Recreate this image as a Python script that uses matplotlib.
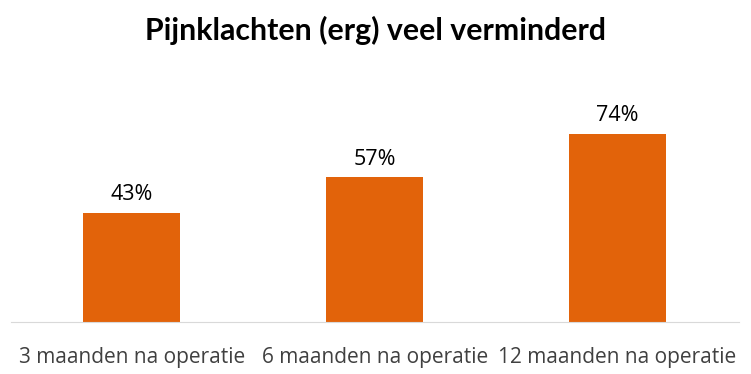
import matplotlib.pyplot as plt

categories = ['3 maanden na operatie', '6 maanden na operatie', '12 maanden na operatie']
values = [43, 57, 74]
labels = ['43%', '57%', '74%']

plt.rcParams['font.family'] = ['Open Sans', 'DejaVu Sans']

fig = plt.figure(figsize=(7.51, 3.74), dpi=100)
ax = fig.add_axes([10.5 / 751, 52 / 374, 728.5 / 751, 270 / 374])

x = range(len(categories))
bars = ax.bar(x, values, width=0.4, color='#E2630A')
for b, lab in zip(bars, labels):
    ax.text(b.get_x() + b.get_width() / 2, b.get_height() + 3, lab,
            ha='center', va='bottom', fontsize=15.5, color='black')

ax.set_xlim(-0.5, 2.5)
ax.set_ylim(0, 270 / 2.54)
ax.set_xticks(list(x))
ax.set_xticklabels(categories, fontsize=15, color='#404040')
ax.tick_params(axis='x', length=0, pad=18)
ax.set_yticks([])
for s in ['top', 'right', 'left']:
    ax.spines[s].set_visible(False)
ax.spines['bottom'].set_color('#D9D9D9')

fig.text(0.5, 1 - 30 / 374, 'Pijnklachten (erg) veel verminderd', ha='center', va='center',
         fontsize=21.8, fontweight='bold', family=['Lato', 'DejaVu Sans'])

fig.savefig('out.png', dpi=100)
